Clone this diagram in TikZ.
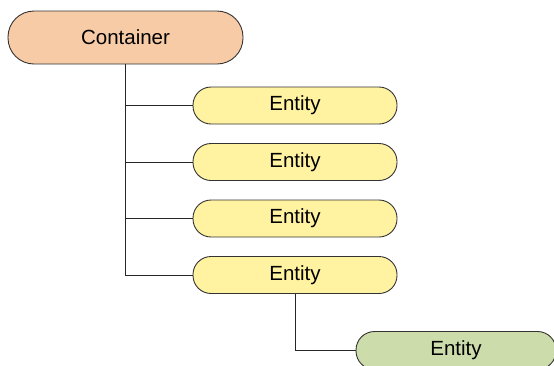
\documentclass[tikz,border=0pt]{standalone}
\usepackage{fontspec}
\setmainfont{Liberation Sans}
\definecolor{peach}{HTML}{F8CBA7}
\definecolor{paleyellow}{HTML}{FFF2A0}
\definecolor{sage}{HTML}{CCDCAA}
\definecolor{edge}{HTML}{333333}
\begin{document}
\begin{tikzpicture}[x=1pt,y=-1pt,
  pill/.style={draw=edge, line width=0.9pt, rectangle, inner sep=0pt,
    font=\fontsize{20.5}{24}\selectfont},
  bigpill/.style={pill, fill=peach, minimum width=235pt, minimum height=53pt, rounded corners=26pt},
  entitybox/.style={pill, fill=paleyellow, minimum width=204pt, minimum height=37pt, rounded corners=18pt},
  leafbox/.style={pill, fill=sage, minimum width=200pt, minimum height=38pt, rounded corners=18.5pt},
  link/.style={draw=black!85, line width=0.9pt}]
\useasboundingbox (0,0) rectangle (554,365);
\clip (0,0) rectangle (554,365);

% root container
\node[bigpill] (cont) at (125.5,37.5) {Container};

% entities hanging off the container
\node[entitybox] (e1) at (295,105.5) {Entity};
\node[entitybox] (e2) at (295,162) {Entity};
\node[entitybox] (e3) at (295,218.5) {Entity};
\node[entitybox] (e4) at (295,275) {Entity};

% nested entity
\node[leafbox] (e5) at (456,350.5) {Entity};

% tree connectors
\foreach \n in {e1,e2,e3,e4}
  \draw[link] (cont.south) |- (\n.west);
\draw[link] (e4.south) |- (e5.west);
\end{tikzpicture}
\end{document}
